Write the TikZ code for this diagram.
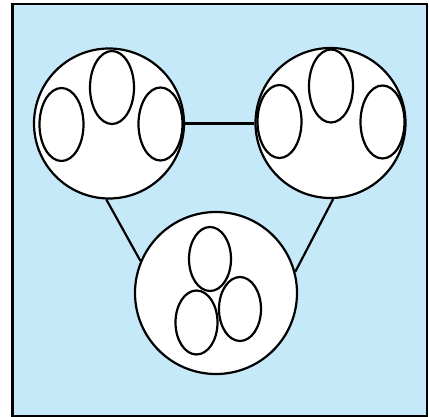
\documentclass[tikz,border=0pt]{standalone}
\usetikzlibrary{shapes.geometric}
\definecolor{paleblue}{HTML}{C6E9F9}

\begin{document}
\begin{tikzpicture}[x=1pt,y=-1pt,
 group/.style={circle,draw,fill=white,line width=2.2pt,minimum size=#1,inner sep=0pt},
 member/.style={ellipse,draw,line width=2.2pt,minimum width=44pt,minimum height=73pt,inner sep=0pt},
 smallmember/.style={member,minimum width=42pt,minimum height=64pt},
 link/.style={line width=2.2pt}]
\useasboundingbox (0,0) rectangle (429,417);
\draw[fill=paleblue,line width=2.6pt] (12.5,4) rectangle (427,416);
% three groups
\node[group=150pt] (lt) at (109,123.5) {};
\node[group=150pt] (rt) at (330.5,123) {};
\node[group=162pt] (bot) at (216,293) {};
% members of the left group
\node[member] (lt1) at (61.5,124.5) {};
\node[member] (lt2) at (112,87.5) {};
\node[member] (lt3) at (160.5,124) {};
% members of the right group
\node[member] (rt1) at (279.5,121.5) {};
\node[member] (rt2) at (331,86) {};
\node[member] (rt3) at (382.5,122) {};
% members of the bottom group
\node[smallmember] (bot1) at (210,259) {};
\node[smallmember] (bot2) at (196.5,322.5) {};
\node[smallmember] (bot3) at (240,309) {};
% links
\draw[link] (lt.east) -- (lt.east -| rt.west);
\draw[link] (lt.-92) -- (bot.157);
\draw[link] (rt.-88) -- (bot.15);
\end{tikzpicture}
\end{document}
